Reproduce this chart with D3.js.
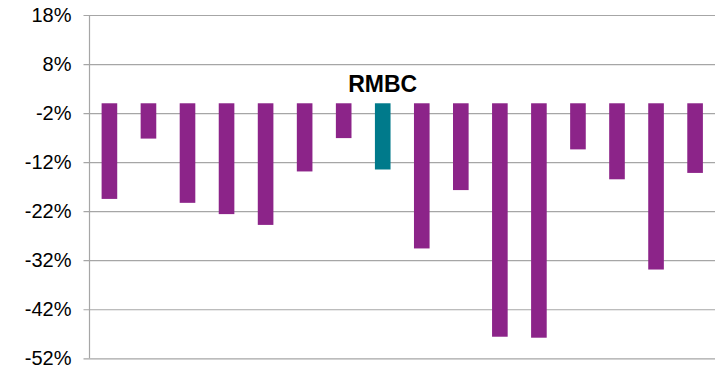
<!DOCTYPE html>
<html>
<head>
<meta charset="utf-8">
<script src="https://cdn.jsdelivr.net/npm/d3@7"></script>
<style>
  html, body { margin: 0; padding: 0; background: #fff; }
  svg { display: block; font-family: "Liberation Sans", Arial, sans-serif; }
</style>
</head>
<body>
<svg id="chart" width="719" height="369"></svg>
<script>
// Per-entity change (%) — one bar each, RMBC highlighted
const names = ["A1", "A2", "A3", "A4", "A5", "A6", "A7", "RMBC", "A9", "A10", "A11", "A12", "A13", "A14", "A15", "A16"];
const values = [-19.5, -7.2, -20.3, -22.6, -24.8, -13.9, -7.1, -13.5, -29.6, -17.7, -47.6, -47.8, -9.4, -15.5, -33.9, -14.2];
const highlight = "RMBC";
const yTicks = [18, 8, -2, -12, -22, -32, -42, -52];

const svg = d3.select("#chart");
const plotLeft = 89.5, plotRight = 715, plotTop = 15, plotBottom = 358.3;

const x = d3.scaleBand()
  .domain(names)
  .range([plotLeft, plotRight])
  .paddingInner(0.6)
  .paddingOuter(0.31);

const y = d3.scaleLinear()
  .domain([-52, 18])
  .range([plotBottom, plotTop]);

// Horizontal gridlines with short ticks left of the axis
const yAxis = d3.axisLeft(y)
  .tickValues(yTicks)
  .tickFormat(d => d + "%")
  .tickSize(-(plotRight - plotLeft))
  .tickSizeOuter(0)
  .tickPadding(18);

const g = svg.append("g")
  .attr("transform", `translate(${plotLeft},0)`)
  .call(yAxis);

g.select(".domain").remove();
g.selectAll(".tick line")
  .attr("x1", -6)
  .attr("stroke", "#a6a6a6")
  .attr("stroke-width", 1.2);
g.selectAll(".tick text")
  .attr("fill", "#000")
  .attr("font-size", 20)
  .attr("font-family", "'Liberation Sans', Arial, sans-serif");

// Vertical axis line
svg.append("line")
  .attr("x1", plotLeft).attr("x2", plotLeft)
  .attr("y1", plotTop).attr("y2", plotBottom)
  .attr("stroke", "#a6a6a6")
  .attr("stroke-width", 1.2);

// Bars hanging from zero
svg.append("g")
  .selectAll("rect")
  .data(names.map((n, i) => ({ name: n, value: values[i] })))
  .join("rect")
  .attr("x", d => x(d.name))
  .attr("width", x.bandwidth())
  .attr("y", d => y(Math.max(0, d.value)))
  .attr("height", d => Math.abs(y(d.value) - y(0)))
  .attr("fill", d => d.name === highlight ? "#007a8b" : "#8c2489");

// Label over the highlighted bar
svg.append("text")
  .attr("x", x(highlight) + x.bandwidth() / 2)
  .attr("y", y(0) - 11)
  .attr("text-anchor", "middle")
  .attr("font-size", 23)
  .attr("font-weight", "bold")
  .attr("fill", "#000")
  .text(highlight);
</script>
</body>
</html>
